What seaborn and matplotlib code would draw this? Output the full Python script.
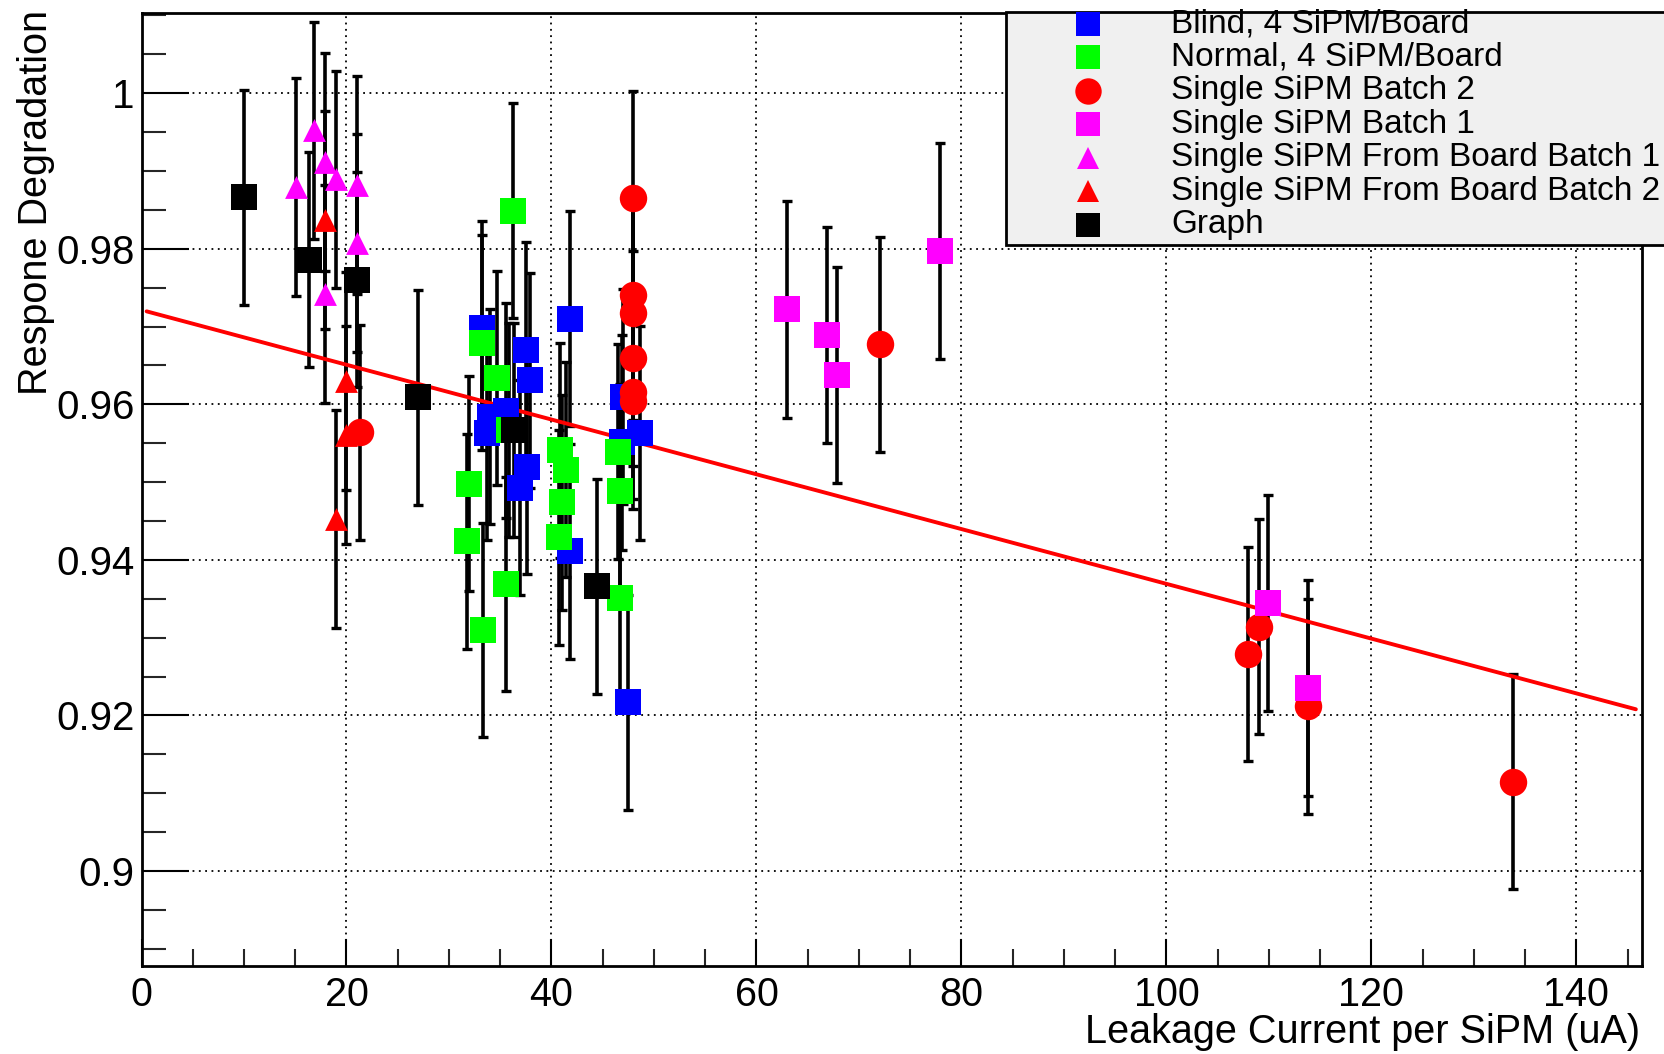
import numpy as np
import pandas as pd
import matplotlib
matplotlib.use("Agg")
import matplotlib.pyplot as plt
import seaborn as sns
from matplotlib.lines import Line2D
from matplotlib.patches import Rectangle
from matplotlib.ticker import MultipleLocator, FixedLocator, FixedFormatter

# ---------------- data ----------------
blind_x = [33.2, 37.5, 37.9, 41.8, 35.6, 34.0, 33.7, 37.6, 36.9, 41.8, 48.6, 47.0, 46.85, 47.5]
blind_y = [0.9698, 0.9670, 0.9631, 0.9710, 0.9592, 0.9584, 0.9563, 0.9520, 0.9493, 0.9411, 0.9563, 0.9610, 0.9551, 0.9217]
blind_err = [0.0138] * 14

normal_x = [36.26, 33.2, 34.65, 32.0, 31.8, 35.6, 33.35, 40.8, 41.4, 41.0, 40.7, 46.5, 46.7, 46.7, 35.9]
normal_y = [0.9849, 0.9679, 0.9634, 0.9498, 0.9424, 0.9369, 0.9310, 0.9541, 0.9516, 0.9474, 0.9429, 0.9539, 0.9488, 0.9351, 0.9567]
normal_err = [0.0138] * 15

batch2_x = [48.0, 48.0, 48.0, 48.0, 48.0, 48.0, 21.3, 72.05, 108.0, 109.05, 113.8, 133.8]
batch2_y = [0.9865, 0.9741, 0.9718, 0.9659, 0.9616, 0.9604, 0.9564, 0.9677, 0.9279, 0.9314, 0.9212, 0.9115]
batch2_err = [0.0138] * 12

batch1_x = [63.0, 66.85, 67.9, 77.9, 109.9, 113.8]
batch1_y = [0.9722, 0.9689, 0.9638, 0.9797, 0.9345, 0.9235]
batch1_err = [0.0139] * 6

fb1_x = [15.06, 16.85, 17.9, 18.96, 21.04, 21.04, 17.95]
fb1_y = [0.9879, 0.9952, 0.9912, 0.9889, 0.9882, 0.9807, 0.9742]
fb1_err = [0.0140] * 7

fb2_x = [17.95, 20.0, 20.0, 19.0]
fb2_y = [0.9837, 0.9630, 0.9561, 0.9453]
fb2_err = [0.0140] * 4

graph_x = [10.0, 16.3, 21.0, 27.0, 36.3, 44.4]
graph_y = [0.9866, 0.9786, 0.9760, 0.9609, 0.9567, 0.9366]
graph_err = [0.0138] * 6

fit_x = [0.5, 145.8]
fit_y = [0.97195, 0.9208]

legend_labels = ["Blind, 4 SiPM/Board", "Normal, 4 SiPM/Board", "Single SiPM Batch 2",
                 "Single SiPM Batch 1", "Single SiPM From Board Batch 1",
                 "Single SiPM From Board Batch 2", "Graph"]

x_ticks = [0, 20, 40, 60, 80, 100, 120, 140]
x_ticklabels = ["0", "20", "40", "60", "80", "100", "120", "140"]
y_ticks = [0.90, 0.92, 0.94, 0.96, 0.98, 1.00]
y_ticklabels = ["0.9", "0.92", "0.94", "0.96", "0.98", "1"]

x_title = "Leakage Current per SiPM (uA)"
y_title = "Respone Degradation"

# ---------------- style ----------------
sns.set_theme(style="white")
plt.rcParams['font.family'] = ['Liberation Sans', 'DejaVu Sans']

W, H = 1664, 1054
fig = plt.figure(figsize=(W / 100, H / 100), dpi=100)
fig.patch.set_facecolor("white")
ax = fig.add_axes([141.5 / W, 1 - 966 / H, (1642 - 141.5) / W, (966 - 13) / H])
ax.set_facecolor("white")

BLUE, GREEN, RED, MAG, BLACK = "#0000ff", "#00ff00", "#ff0000", "#ff00ff", "#000000"
SQ, CI, TR = 340, 390, 270

series = [
    (blind_x, blind_y, blind_err, BLUE, "s", SQ),
    (normal_x, normal_y, normal_err, GREEN, "s", SQ),
    (graph_x, graph_y, graph_err, BLACK, "s", SQ),
    (batch2_x, batch2_y, batch2_err, RED, "o", CI),
    (batch1_x, batch1_y, batch1_err, MAG, "s", SQ),
    (fb1_x, fb1_y, fb1_err, MAG, "^", TR),
    (fb2_x, fb2_y, fb2_err, RED, "^", TR),
]

for xs, ys, es, c, m, s in series:
    ax.errorbar(xs, ys, yerr=es, fmt="none", ecolor="black", elinewidth=2.6,
                capsize=3.6, capthick=2.4, zorder=2)

sns.lineplot(x=fit_x, y=fit_y, color="red", linewidth=2.8, ax=ax, zorder=2.5)

for xs, ys, es, c, m, s in series:
    df = pd.DataFrame({"x": xs, "y": ys})
    sns.scatterplot(data=df, x="x", y="y", marker=m, color=c, s=s, linewidth=0,
                    ax=ax, zorder=3, legend=False)

ax.set_xlim(0, 146.4)
ax.set_ylim(0.8878, 1.0103)

ax.xaxis.set_major_locator(FixedLocator(x_ticks))
ax.xaxis.set_major_formatter(FixedFormatter(x_ticklabels))
ax.xaxis.set_minor_locator(MultipleLocator(5))
ax.yaxis.set_major_locator(FixedLocator(y_ticks))
ax.yaxis.set_major_formatter(FixedFormatter(y_ticklabels))
ax.yaxis.set_minor_locator(MultipleLocator(0.005))

ax.tick_params(axis="x", which="major", direction="in", length=19.5, width=1.5,
               labelsize=28.5, pad=7, colors="black", bottom=True, top=False)
ax.tick_params(axis="x", which="minor", direction="in", length=12, width=1.5,
               bottom=True, top=False)
ax.tick_params(axis="y", which="major", direction="in", length=34, width=1.5,
               labelsize=29, pad=5, colors="black", left=True, right=False)
ax.tick_params(axis="y", which="minor", direction="in", length=17, width=1.5,
               left=True, right=False)

ax.grid(True, which="major", color="black", linestyle=(0, (1, 2.5)), linewidth=1.3)
ax.set_axisbelow(True)
for sp in ax.spines.values():
    sp.set_color("black")
    sp.set_linewidth(2)
ax.set_xlabel("")
ax.set_ylabel("")

fig.text(1640 / W, 1 - 1043 / H, x_title, ha="right", va="baseline", fontsize=28.5, color="black")
fig.text(36 / W, 1 - 10 / H, y_title, ha="center", va="top", rotation=90, fontsize=28.5, color="black")

# ---------------- legend box ----------------
box = Rectangle((1006 / W, 1 - 245 / H), 0.5, 233 / H, transform=fig.transFigure,
                facecolor="#f0f0f0", edgecolor="black", linewidth=2, zorder=5)
fig.add_artist(box)
leg_styles = [(BLUE, "s", 17.5), (GREEN, "s", 17.5), (RED, "o", 19), (MAG, "s", 17.5),
              (MAG, "^", 15.5), (RED, "^", 15.5), (BLACK, "s", 17.5)]
for i, (lab, (c, m, ms)) in enumerate(zip(legend_labels, leg_styles)):
    yc = 1 - (23.8 + 33.45 * i) / H
    fig.add_artist(Line2D([1088 / W], [yc], transform=fig.transFigure, marker=m,
                          markersize=ms, color=c, markeredgewidth=0, linestyle="none", zorder=6))
    fig.text(1171 / W, yc, lab, ha="left", va="center", fontsize=24, color="black", zorder=6)

fig.savefig("out.png", dpi=100)
